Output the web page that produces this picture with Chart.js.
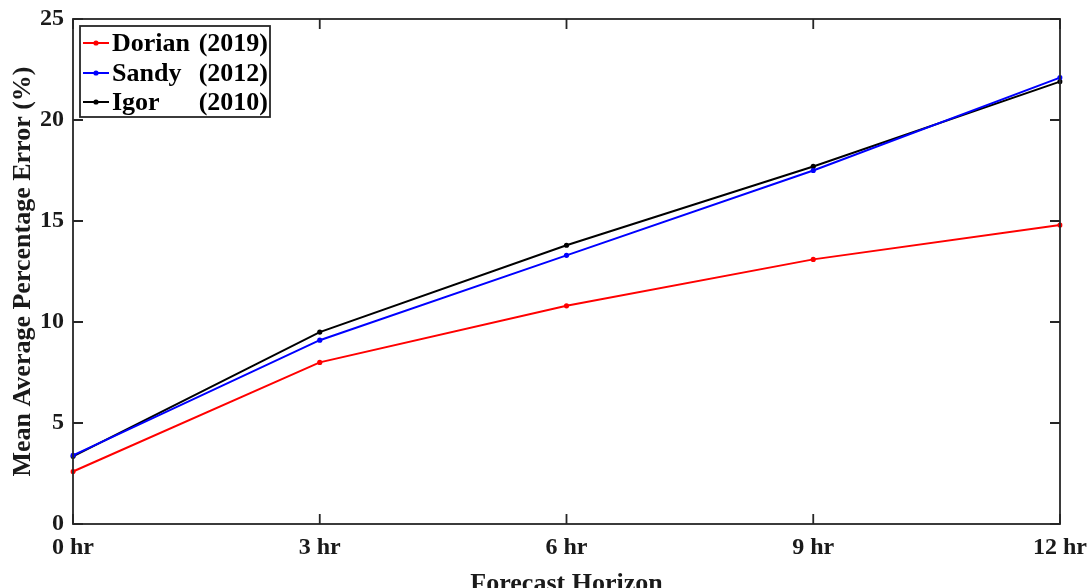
<!DOCTYPE html>
<html>
<head>
<meta charset="utf-8">
<script src="https://cdn.jsdelivr.net/npm/chart.js@4"></script>
<style>
html,body{margin:0;padding:0;background:#fff;}
#wrap{width:1091px;height:588px;}
</style>
</head>
<body>
<div id="wrap"><canvas id="c" width="1091" height="588"></canvas></div>
<script>
const categories = ['0 hr', '3 hr', '6 hr', '9 hr', '12 hr'];
const dorian = [2.6, 8.0, 10.8, 13.1, 14.8];
const sandy  = [3.4, 9.1, 13.3, 17.5, 22.1];
const igor   = [3.35, 9.5, 13.8, 17.7, 21.9];
const seriesNames = ['Dorian', 'Sandy', 'Igor'];
const seriesYears = ['(2019)', '(2012)', '(2010)'];
const yTicks = [0, 5, 10, 15, 20, 25];

const FONT = '"Liberation Serif", "Times New Roman", serif';
const AXC = '#262626';
const TXT = '#1a1a1a';

const boxPlugin = {
  id: 'boxTicks',
  afterDatasetsDraw(chart) {
    const {ctx, chartArea: a, scales: {x, y}} = chart;
    ctx.save();
    ctx.strokeStyle = AXC;
    ctx.lineWidth = 1.8;
    ctx.strokeRect(a.left, a.top, a.right - a.left, a.bottom - a.top);
    const tl = 10;
    ctx.beginPath();
    y.ticks.forEach((t, i) => {
      const py = y.getPixelForTick(i);
      ctx.moveTo(a.left, py); ctx.lineTo(a.left + tl, py);
      ctx.moveTo(a.right, py); ctx.lineTo(a.right - tl, py);
    });
    x.ticks.forEach((t, i) => {
      const px = x.getPixelForTick(i);
      ctx.moveTo(px, a.bottom); ctx.lineTo(px, a.bottom - tl);
      ctx.moveTo(px, a.top); ctx.lineTo(px, a.top + tl);
    });
    ctx.stroke();

    // legend
    const lx = 80, ly = 26, lw = 190, lh = 91;
    ctx.fillStyle = '#fff';
    ctx.fillRect(lx, ly, lw, lh);
    ctx.lineWidth = 1.8;
    ctx.strokeStyle = AXC;
    ctx.strokeRect(lx, ly, lw, lh);
    const rows = [43, 73, 102];
    ctx.font = 'bold 26px ' + FONT;
    ctx.textBaseline = 'middle';
    chart.data.datasets.forEach((ds, i) => {
      const ry = rows[i];
      ctx.strokeStyle = ds.borderColor;
      ctx.lineWidth = 2;
      ctx.beginPath(); ctx.moveTo(83, ry); ctx.lineTo(109, ry); ctx.stroke();
      ctx.fillStyle = ds.borderColor;
      ctx.beginPath(); ctx.arc(96, ry, 2.6, 0, Math.PI * 2); ctx.fill();
      ctx.fillStyle = '#000';
      ctx.textAlign = 'left';
      ctx.fillText(seriesNames[i], 112, ry + 1);
      ctx.textAlign = 'right';
      ctx.fillText(seriesYears[i], 268, ry + 1);
    });
    ctx.restore();
  }
};

function mk(label, data, color) {
  return {
    label, data,
    borderColor: color, backgroundColor: color,
    borderWidth: 2, pointRadius: 2.6, pointHoverRadius: 2.6,
    pointBorderWidth: 0, tension: 0, fill: false
  };
}

new Chart(document.getElementById('c'), {
  type: 'line',
  data: {
    labels: categories,
    datasets: [
      mk('Dorian (2019)', dorian, '#ff0000'),
      mk('Sandy (2012)', sandy, '#0000ff'),
      mk('Igor (2010)', igor, '#000000')
    ]
  },
  plugins: [boxPlugin],
  options: {
    responsive: false,
    animation: false,
    devicePixelRatio: 1,
    layout: { padding: { left: 0, right: 31, top: 19, bottom: 0 } },
    plugins: { legend: { display: false }, tooltip: { enabled: false } },
    scales: {
      x: {
        type: 'category',
        offset: false,
        grid: { display: false, drawTicks: false },
        border: { display: false },
        ticks: { color: TXT, font: { family: FONT, size: 24, weight: 'bold' }, padding: 9, maxRotation: 0, autoSkip: false },
        title: { display: true, text: 'Forecast Horizon', color: TXT, font: { family: FONT, size: 26, weight: 'bold' }, padding: { top: 0, bottom: -12 } },
        afterFit(s) { s.height = 64; s.paddingLeft = 0; s.paddingRight = 0; }
      },
      y: {
        min: 0, max: 25,
        afterBuildTicks(s) { s.ticks = yTicks.map(v => ({ value: v })); },
        grid: { display: false, drawTicks: false },
        border: { display: false },
        ticks: { color: TXT, font: { family: FONT, size: 24, weight: 'bold' }, padding: 9 },
        title: { display: true, text: 'Mean Average Percentage Error (%)', color: TXT, font: { family: FONT, size: 26, weight: 'bold' }, padding: { top: 8, bottom: 0 } },
        afterFit(s) { s.width = 73; s.paddingTop = 0; s.paddingBottom = 0; }
      }
    }
  }
});
</script>
</body>
</html>
